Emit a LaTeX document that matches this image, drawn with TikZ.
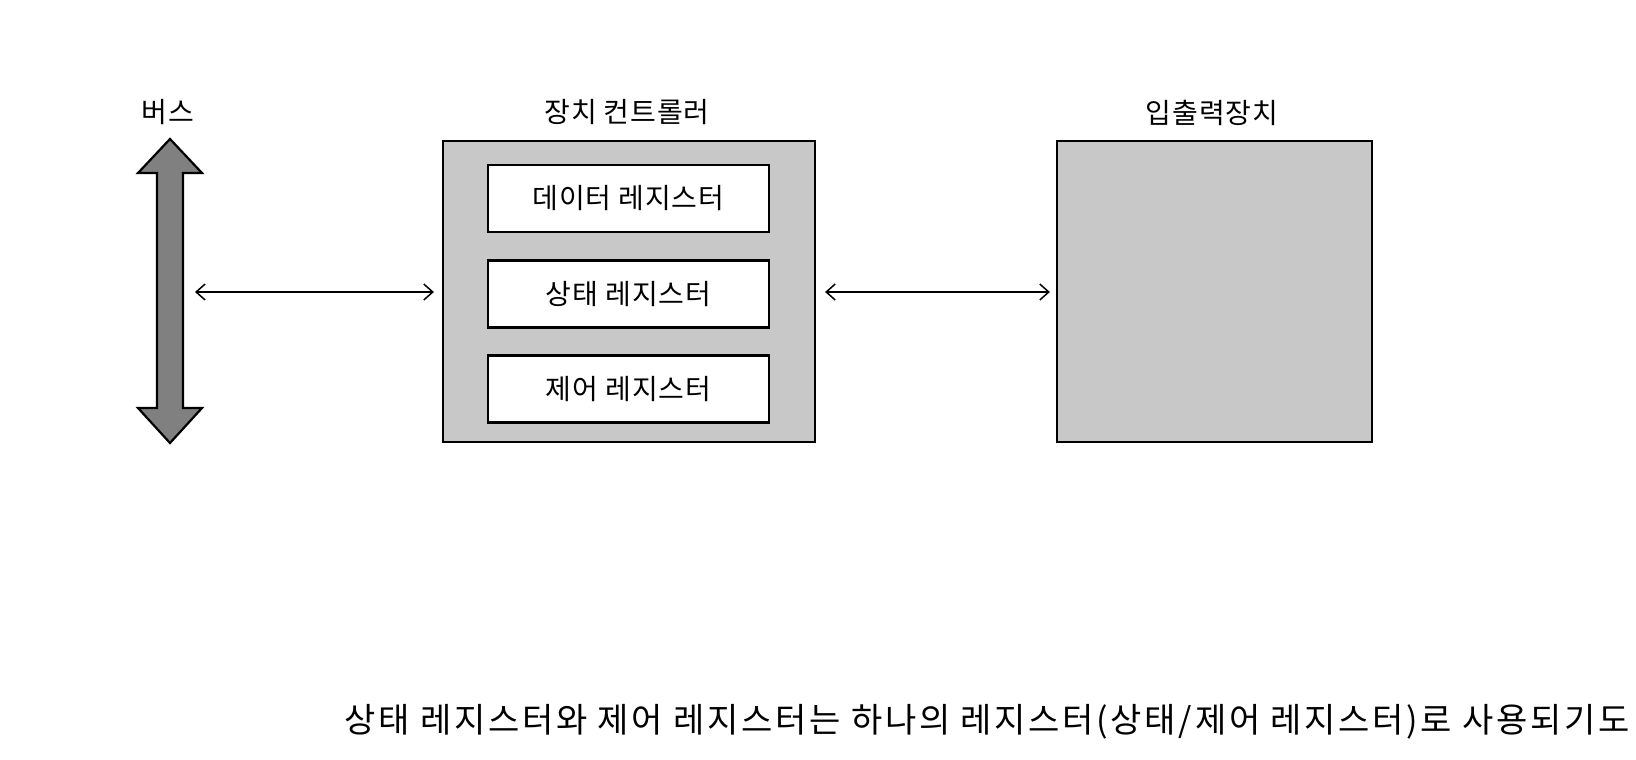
\documentclass[tikz,border=0pt]{standalone}
\usepackage{fontspec}
\newfontfamily\kr{Noto Sans CJK KR}
\newfontfamily\krwide[LetterSpace=8]{Noto Sans CJK KR}
\newfontfamily\krlab[LetterSpace=3]{Noto Sans CJK KR}
\usetikzlibrary{arrows.meta}
\definecolor{boxgray}{HTML}{C8C8C8}
\definecolor{busgray}{HTML}{808080}
\tikzset{
  frame/.style={draw=black, line width=2.2pt, fill=boxgray, inner sep=0pt},
  regbox/.style={draw=black, line width=2.2pt, fill=white, inner sep=0pt, minimum width=281pt, minimum height=67pt, font=\krlab\fontsize{28}{32}\selectfont},
  title/.style={font=\krlab\fontsize{28}{32}\selectfont, inner sep=0pt},
  link/.style={line width=1.5pt, {Straight Barb[length=9pt,width=16pt]}-{Straight Barb[length=9pt,width=16pt]}},
}
\begin{document}
\begin{tikzpicture}[x=1pt,y=-1pt]
\useasboundingbox[fill=white] (0,0) rectangle (1636,760);
% bus
\draw[line width=2.2pt, fill=busgray, line join=miter]
  (170,139) -- (202,173) -- (183,173) -- (183,408) -- (202,408) -- (170,443)
  -- (138,408) -- (157,408) -- (157,173) -- (138,173) -- cycle;
\node[title] (buslbl) at (168,112) {버스};
\coordinate (busR) at (195,292);
% controller
\node[frame, minimum width=372pt, minimum height=301pt] (ctrl) at (629,291.5) {};
\node[title] (ctrllbl) at (627,112) {장치 컨트롤러};
\node[regbox] (data) at (628.5,198.5) {데이터 레지스터};
\node[regbox] (stat) at (628.5,294) {상태 레지스터};
\node[regbox] (ctl) at (628.5,389) {제어 레지스터};
% io device
\node[frame, minimum width=315pt, minimum height=301pt] (io) at (1214.5,291.5) {};
\node[title] (iolbl) at (1212,113) {입출력장치};
% connectors
\draw[link] (busR) -- ([xshift=-8pt]ctrl.west |- busR);
\draw[link] ([xshift=9pt]ctrl.east |- busR) -- ([xshift=-6pt]io.west |- busR);
% caption
\node[anchor=east, inner sep=0pt, font=\krwide\fontsize{34}{40}\selectfont] (cap) at (1630,722)
  {상태 레지스터와 제어 레지스터는 하나의 레지스터(상태/제어 레지스터)로 사용되기도};
\end{tikzpicture}
\end{document}
